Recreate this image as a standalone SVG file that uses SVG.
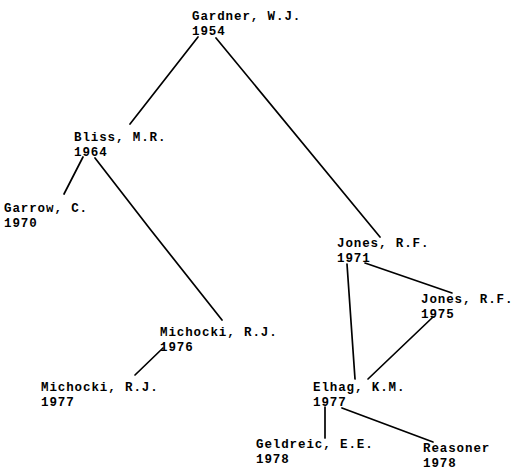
<svg xmlns="http://www.w3.org/2000/svg" width="512" height="469" viewBox="0 0 512 469">
<style>
text{font-family:"Liberation Mono","Courier New",monospace;font-size:12.5px;letter-spacing:0.9px;font-weight:bold;fill:#000}
line,polyline{stroke:#000;stroke-width:1.7;fill:none;stroke-linecap:round}
</style>
<rect width="512" height="469" fill="#fff"/>
<g id="connectors">
<line x1="198" y1="37" x2="130" y2="124"/>
<line x1="216" y1="38" x2="380" y2="237"/>
<line x1="83" y1="157" x2="64" y2="194"/>
<polyline points="95,158 150,229 222,320"/>
<line x1="163" y1="348" x2="135" y2="375"/>
<line x1="347" y1="264" x2="355" y2="379"/>
<line x1="365" y1="263" x2="452" y2="293"/>
<line x1="433" y1="317" x2="368" y2="379"/>
<line x1="325" y1="407" x2="325" y2="438"/>
<line x1="342" y1="408" x2="433" y2="442"/>
</g>
<g id="gardner1954"><text x="192" y="20">Gardner, W.J.</text><text x="192" y="34.5">1954</text></g>
<g id="bliss1964"><text x="74" y="141">Bliss, M.R.</text><text x="74" y="155.5">1964</text></g>
<g id="garrow1970"><text x="4" y="212">Garrow, C.</text><text x="4" y="226.5">1970</text></g>
<g id="jones1971"><text x="337" y="247">Jones, R.F.</text><text x="337" y="261.5">1971</text></g>
<g id="jones1975"><text x="421" y="303">Jones, R.F.</text><text x="421" y="317.5">1975</text></g>
<g id="michocki1976"><text x="160" y="336">Michocki, R.J.</text><text x="160" y="350.5">1976</text></g>
<g id="michocki1977"><text x="41" y="391">Michocki, R.J.</text><text x="41" y="405.5">1977</text></g>
<g id="elhag1977"><text x="313" y="391">Elhag, K.M.</text><text x="313" y="405.5">1977</text></g>
<g id="geldreic1978"><text x="256" y="448">Geldreic, E.E.</text><text x="256" y="462.5">1978</text></g>
<g id="reasoner1978"><text x="423" y="452">Reasoner</text><text x="423" y="466.5">1978</text></g>
</svg>
